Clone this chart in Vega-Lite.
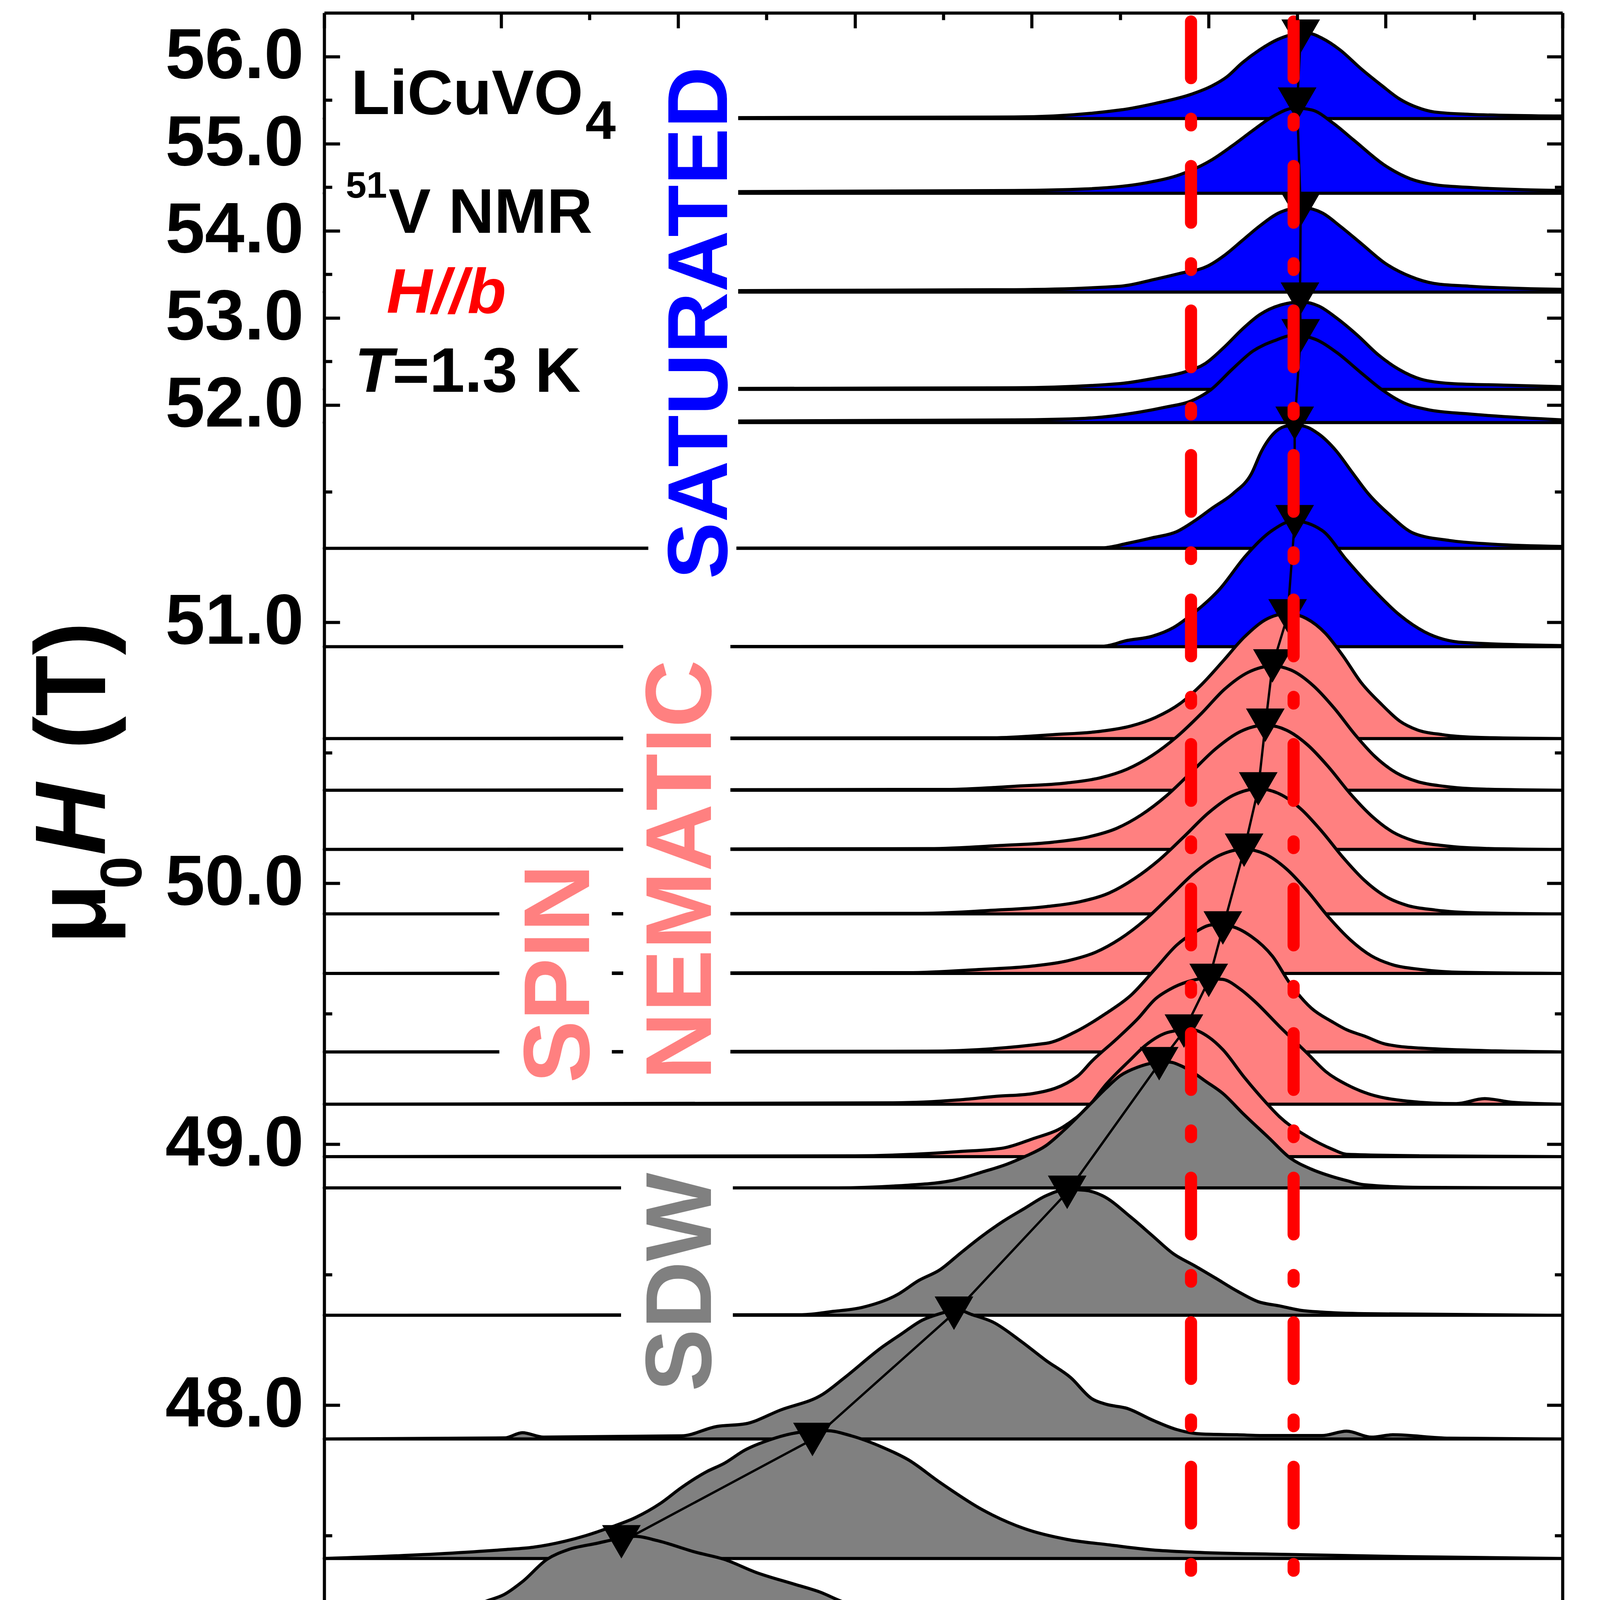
{
  "$schema": "https://vega.github.io/schema/vega-lite/v6.json",
  "width": 3170,
  "height": 4232,
  "autosize": {"type": "none"},
  "padding": {"left": 830, "top": 33, "right": 204, "bottom": 705},
  "background": "white",
  "config": {"view": {"stroke": null}, "font": "Liberation Sans"},
  "datasets": {
    "base": [
      {"s":"s01","p":"1SAT","b":55.287},{"s":"s02","p":"1SAT","b":54.430},{"s":"s03","p":"1SAT","b":53.296},
      {"s":"s04","p":"1SAT","b":52.179},{"s":"s05","p":"1SAT","b":51.798},{"s":"s06","p":"1SAT","b":51.283},
      {"s":"s07","p":"1SAT","b":50.906},{"s":"s08","p":"2SN","b":50.554},{"s":"s09","p":"2SN","b":50.356},
      {"s":"s10","p":"2SN","b":50.129},{"s":"s11","p":"2SN","b":49.882},{"s":"s12","p":"2SN","b":49.654},
      {"s":"s13","p":"2SN","b":49.353},{"s":"s14","p":"2SN","b":49.153},{"s":"s15","p":"2SN","b":48.952},
      {"s":"s16","p":"3SDW","b":48.832},{"s":"s17","p":"3SDW","b":48.344},{"s":"s18","p":"3SDW","b":47.870},
      {"s":"s19","p":"3SDW","b":47.412},{"s":"s20","p":"3SDW","b":47.0}
    ],
    "spectra": [
      {"s":"s01","x":0.45,"y":55.287},{"s":"s01","x":0.645,"y":55.305},{"s":"s01","x":0.675,"y":55.386},{"s":"s01","x":0.685,"y":55.462},
      {"s":"s01","x":0.695,"y":55.565},{"s":"s01","x":0.701,"y":55.664},{"s":"s01","x":0.705,"y":55.762},{"s":"s01","x":0.7095,"y":55.928},
      {"s":"s01","x":0.7144,"y":56.076},{"s":"s01","x":0.7194,"y":56.193},{"s":"s01","x":0.7243,"y":56.256},{"s":"s01","x":0.7282,"y":56.265},
      {"s":"s01","x":0.7322,"y":56.206},{"s":"s01","x":0.7371,"y":56.076},{"s":"s01","x":0.743,"y":55.861},{"s":"s01","x":0.749,"y":55.664},
      {"s":"s01","x":0.7538,"y":55.516},{"s":"s01","x":0.7588,"y":55.417},{"s":"s01","x":0.7637,"y":55.363},{"s":"s01","x":0.7736,"y":55.336},
      {"s":"s01","x":0.7933,"y":55.318},{"s":"s01","x":0.8,"y":55.316},

      {"s":"s02","x":0.45,"y":54.430},{"s":"s02","x":0.645,"y":54.461},{"s":"s02","x":0.665,"y":54.479},{"s":"s02","x":0.682,"y":54.547},
      {"s":"s02","x":0.692,"y":54.645},{"s":"s02","x":0.7006,"y":54.807},{"s":"s02","x":0.7066,"y":54.973},{"s":"s02","x":0.7125,"y":55.152},
      {"s":"s02","x":0.7184,"y":55.318},{"s":"s02","x":0.7243,"y":55.408},{"s":"s02","x":0.7292,"y":55.385},{"s":"s02","x":0.7351,"y":55.237},
      {"s":"s02","x":0.741,"y":55.040},{"s":"s02","x":0.75,"y":54.744},{"s":"s02","x":0.757,"y":54.596},{"s":"s02","x":0.7637,"y":54.529},
      {"s":"s02","x":0.7736,"y":54.497},{"s":"s02","x":0.8,"y":54.461},

      {"s":"s03","x":0.45,"y":53.296},{"s":"s03","x":0.645,"y":53.323},{"s":"s03","x":0.675,"y":53.363},{"s":"s03","x":0.685,"y":53.444},
      {"s":"s03","x":0.692,"y":53.511},{"s":"s03","x":0.6996,"y":53.592},{"s":"s03","x":0.7046,"y":53.722},{"s":"s03","x":0.7095,"y":53.888},
      {"s":"s03","x":0.7144,"y":54.054},{"s":"s03","x":0.7204,"y":54.215},{"s":"s03","x":0.7263,"y":54.265},{"s":"s03","x":0.7322,"y":54.202},
      {"s":"s03","x":0.7371,"y":54.054},{"s":"s03","x":0.743,"y":53.857},{"s":"s03","x":0.75,"y":53.623},{"s":"s03","x":0.757,"y":53.475},
      {"s":"s03","x":0.7637,"y":53.395},{"s":"s03","x":0.7736,"y":53.363},{"s":"s03","x":0.8,"y":53.327},

      {"s":"s04","x":0.45,"y":52.179},{"s":"s04","x":0.645,"y":52.197},{"s":"s04","x":0.675,"y":52.246},{"s":"s04","x":0.685,"y":52.309},
      {"s":"s04","x":0.693,"y":52.376},{"s":"s04","x":0.699,"y":52.475},{"s":"s04","x":0.7046,"y":52.672},{"s":"s04","x":0.7095,"y":52.870},
      {"s":"s04","x":0.7144,"y":53.036},{"s":"s04","x":0.7204,"y":53.148},{"s":"s04","x":0.7263,"y":53.183},{"s":"s04","x":0.7312,"y":53.134},
      {"s":"s04","x":0.7361,"y":53.000},{"s":"s04","x":0.742,"y":52.802},{"s":"s04","x":0.748,"y":52.574},{"s":"s04","x":0.7538,"y":52.408},
      {"s":"s04","x":0.76,"y":52.296},{"s":"s04","x":0.7687,"y":52.246},{"s":"s04","x":0.7834,"y":52.228},{"s":"s04","x":0.8,"y":52.210},

      {"s":"s05","x":0.45,"y":51.798},{"s":"s05","x":0.645,"y":51.829},{"s":"s05","x":0.665,"y":51.847},{"s":"s05","x":0.68,"y":51.915},
      {"s":"s05","x":0.688,"y":51.977},{"s":"s05","x":0.695,"y":52.045},{"s":"s05","x":0.7006,"y":52.175},{"s":"s05","x":0.7066,"y":52.408},
      {"s":"s05","x":0.7125,"y":52.619},{"s":"s05","x":0.7184,"y":52.735},{"s":"s05","x":0.7243,"y":52.802},{"s":"s05","x":0.7302,"y":52.753},
      {"s":"s05","x":0.7361,"y":52.605},{"s":"s05","x":0.743,"y":52.372},{"s":"s05","x":0.749,"y":52.175},{"s":"s05","x":0.755,"y":52.027},
      {"s":"s05","x":0.762,"y":51.946},{"s":"s05","x":0.7736,"y":51.897},{"s":"s05","x":0.8,"y":51.829},

      {"s":"s06","x":0.45,"y":51.283},{"s":"s06","x":0.67,"y":51.285},{"s":"s06","x":0.677,"y":51.302},{"s":"s06","x":0.684,"y":51.323},
      {"s":"s06","x":0.691,"y":51.347},{"s":"s06","x":0.696,"y":51.388},{"s":"s06","x":0.701,"y":51.437},{"s":"s06","x":0.707,"y":51.494},
      {"s":"s06","x":0.712,"y":51.567},{"s":"s06","x":0.715,"y":51.657},{"s":"s06","x":0.719,"y":51.731},{"s":"s06","x":0.7225,"y":51.760},
      {"s":"s06","x":0.726,"y":51.762},{"s":"s06","x":0.731,"y":51.722},{"s":"s06","x":0.736,"y":51.657},{"s":"s06","x":0.7405,"y":51.575},
      {"s":"s06","x":0.745,"y":51.494},{"s":"s06","x":0.751,"y":51.413},{"s":"s06","x":0.758,"y":51.340},{"s":"s06","x":0.768,"y":51.313},
      {"s":"s06","x":0.78,"y":51.299},{"s":"s06","x":0.8,"y":51.290},

      {"s":"s07","x":0.45,"y":50.906},{"s":"s07","x":0.67,"y":50.908},{"s":"s07","x":0.677,"y":50.930},{"s":"s07","x":0.684,"y":50.946},
      {"s":"s07","x":0.69,"y":50.979},{"s":"s07","x":0.695,"y":51.027},{"s":"s07","x":0.703,"y":51.125},{"s":"s07","x":0.7105,"y":51.255},
      {"s":"s07","x":0.718,"y":51.352},{"s":"s07","x":0.724,"y":51.388},{"s":"s07","x":0.732,"y":51.352},{"s":"s07","x":0.739,"y":51.238},
      {"s":"s07","x":0.7465,"y":51.125},{"s":"s07","x":0.754,"y":51.027},{"s":"s07","x":0.761,"y":50.963},{"s":"s07","x":0.772,"y":50.922},
      {"s":"s07","x":0.8,"y":50.910},

      {"s":"s08","x":0.45,"y":50.554},{"s":"s08","x":0.639,"y":50.557},{"s":"s08","x":0.656,"y":50.569},{"s":"s08","x":0.6695,"y":50.582},
      {"s":"s08","x":0.678,"y":50.602},{"s":"s08","x":0.685,"y":50.635},{"s":"s08","x":0.692,"y":50.689},{"s":"s08","x":0.698,"y":50.761},
      {"s":"s08","x":0.704,"y":50.850},{"s":"s08","x":0.71,"y":50.942},{"s":"s08","x":0.716,"y":51.009},{"s":"s08","x":0.7223,"y":51.033},
      {"s":"s08","x":0.7276,"y":51.014},{"s":"s08","x":0.733,"y":50.957},{"s":"s08","x":0.738,"y":50.870},{"s":"s08","x":0.743,"y":50.770},
      {"s":"s08","x":0.749,"y":50.683},{"s":"s08","x":0.754,"y":50.621},{"s":"s08","x":0.759,"y":50.587},{"s":"s08","x":0.766,"y":50.569},
      {"s":"s08","x":0.777,"y":50.558},{"s":"s08","x":0.8,"y":50.554},

      {"s":"s09","x":0.45,"y":50.356},{"s":"s09","x":0.626,"y":50.359},{"s":"s09","x":0.645,"y":50.371},{"s":"s09","x":0.66,"y":50.384},
      {"s":"s09","x":0.6695,"y":50.404},{"s":"s09","x":0.677,"y":50.437},{"s":"s09","x":0.684,"y":50.489},{"s":"s09","x":0.691,"y":50.561},
      {"s":"s09","x":0.698,"y":50.651},{"s":"s09","x":0.7044,"y":50.742},{"s":"s09","x":0.7112,"y":50.808},{"s":"s09","x":0.718,"y":50.832},
      {"s":"s09","x":0.7238,"y":50.813},{"s":"s09","x":0.7296,"y":50.756},{"s":"s09","x":0.7355,"y":50.670},{"s":"s09","x":0.7413,"y":50.570},
      {"s":"s09","x":0.747,"y":50.485},{"s":"s09","x":0.753,"y":50.423},{"s":"s09","x":0.759,"y":50.389},{"s":"s09","x":0.7665,"y":50.371},
      {"s":"s09","x":0.778,"y":50.360},{"s":"s09","x":0.8,"y":50.356},

      {"s":"s10","x":0.45,"y":50.129},{"s":"s10","x":0.621,"y":50.132},{"s":"s10","x":0.641,"y":50.144},{"s":"s10","x":0.656,"y":50.157},
      {"s":"s10","x":0.666,"y":50.177},{"s":"s10","x":0.674,"y":50.210},{"s":"s10","x":0.681,"y":50.262},{"s":"s10","x":0.688,"y":50.334},
      {"s":"s10","x":0.695,"y":50.424},{"s":"s10","x":0.702,"y":50.515},{"s":"s10","x":0.709,"y":50.581},{"s":"s10","x":0.716,"y":50.605},
      {"s":"s10","x":0.722,"y":50.586},{"s":"s10","x":0.728,"y":50.529},{"s":"s10","x":0.734,"y":50.443},{"s":"s10","x":0.74,"y":50.343},
      {"s":"s10","x":0.746,"y":50.258},{"s":"s10","x":0.752,"y":50.196},{"s":"s10","x":0.758,"y":50.162},{"s":"s10","x":0.766,"y":50.144},
      {"s":"s10","x":0.778,"y":50.133},{"s":"s10","x":0.8,"y":50.129},

      {"s":"s11","x":0.45,"y":49.882},{"s":"s11","x":0.619,"y":49.884},{"s":"s11","x":0.639,"y":49.896},{"s":"s11","x":0.654,"y":49.910},
      {"s":"s11","x":0.664,"y":49.930},{"s":"s11","x":0.672,"y":49.963},{"s":"s11","x":0.679,"y":50.017},{"s":"s11","x":0.686,"y":50.089},
      {"s":"s11","x":0.693,"y":50.178},{"s":"s11","x":0.7,"y":50.270},{"s":"s11","x":0.707,"y":50.337},{"s":"s11","x":0.714,"y":50.361},
      {"s":"s11","x":0.72,"y":50.342},{"s":"s11","x":0.726,"y":50.285},{"s":"s11","x":0.732,"y":50.198},{"s":"s11","x":0.738,"y":50.098},
      {"s":"s11","x":0.744,"y":50.011},{"s":"s11","x":0.75,"y":49.949},{"s":"s11","x":0.756,"y":49.915},{"s":"s11","x":0.764,"y":49.897},
      {"s":"s11","x":0.776,"y":49.886},{"s":"s11","x":0.8,"y":49.882},

      {"s":"s12","x":0.45,"y":49.654},{"s":"s12","x":0.615,"y":49.657},{"s":"s12","x":0.635,"y":49.669},{"s":"s12","x":0.65,"y":49.682},
      {"s":"s12","x":0.66,"y":49.702},{"s":"s12","x":0.668,"y":49.735},{"s":"s12","x":0.675,"y":49.787},{"s":"s12","x":0.682,"y":49.859},
      {"s":"s12","x":0.689,"y":49.949},{"s":"s12","x":0.696,"y":50.040},{"s":"s12","x":0.703,"y":50.106},{"s":"s12","x":0.71,"y":50.130},
      {"s":"s12","x":0.716,"y":50.111},{"s":"s12","x":0.722,"y":50.054},{"s":"s12","x":0.728,"y":49.968},{"s":"s12","x":0.734,"y":49.868},
      {"s":"s12","x":0.74,"y":49.783},{"s":"s12","x":0.746,"y":49.721},{"s":"s12","x":0.752,"y":49.687},{"s":"s12","x":0.76,"y":49.669},
      {"s":"s12","x":0.772,"y":49.658},{"s":"s12","x":0.8,"y":49.654},

      {"s":"s13","x":0.45,"y":49.353},{"s":"s13","x":0.62,"y":49.356},{"s":"s13","x":0.654,"y":49.386},{"s":"s13","x":0.662,"y":49.428},
      {"s":"s13","x":0.671,"y":49.501},{"s":"s13","x":0.678,"y":49.570},{"s":"s13","x":0.685,"y":49.673},{"s":"s13","x":0.691,"y":49.763},
      {"s":"s13","x":0.696,"y":49.811},{"s":"s13","x":0.701,"y":49.840},{"s":"s13","x":0.706,"y":49.835},{"s":"s13","x":0.712,"y":49.796},
      {"s":"s13","x":0.718,"y":49.720},{"s":"s13","x":0.723,"y":49.615},{"s":"s13","x":0.729,"y":49.521},{"s":"s13","x":0.735,"y":49.468},
      {"s":"s13","x":0.739,"y":49.438},{"s":"s13","x":0.744,"y":49.414},{"s":"s13","x":0.75,"y":49.383},{"s":"s13","x":0.762,"y":49.366},
      {"s":"s13","x":0.8,"y":49.353},

      {"s":"s14","x":0.45,"y":49.153},{"s":"s14","x":0.61,"y":49.158},{"s":"s14","x":0.629,"y":49.169},{"s":"s14","x":0.64,"y":49.183},
      {"s":"s14","x":0.65,"y":49.193},{"s":"s14","x":0.663,"y":49.261},{"s":"s14","x":0.667,"y":49.318},{"s":"s14","x":0.674,"y":49.403},
      {"s":"s14","x":0.68,"y":49.481},{"s":"s14","x":0.685,"y":49.557},{"s":"s14","x":0.689,"y":49.593},{"s":"s14","x":0.694,"y":49.622},
      {"s":"s14","x":0.699,"y":49.635},{"s":"s14","x":0.704,"y":49.631},{"s":"s14","x":0.709,"y":49.593},{"s":"s14","x":0.713,"y":49.547},
      {"s":"s14","x":0.72,"y":49.451},{"s":"s14","x":0.728,"y":49.346},{"s":"s14","x":0.733,"y":49.279},{"s":"s14","x":0.739,"y":49.228},
      {"s":"s14","x":0.744,"y":49.198},{"s":"s14","x":0.756,"y":49.165},{"s":"s14","x":0.77,"y":49.155},{"s":"s14","x":0.778,"y":49.174},
      {"s":"s14","x":0.786,"y":49.160},{"s":"s14","x":0.8,"y":49.153},

      {"s":"s15","x":0.45,"y":48.952},{"s":"s15","x":0.6,"y":48.955},{"s":"s15","x":0.615,"y":48.960},{"s":"s15","x":0.629,"y":48.971},
      {"s":"s15","x":0.642,"y":48.985},{"s":"s15","x":0.65,"y":49.019},{"s":"s15","x":0.659,"y":49.067},{"s":"s15","x":0.666,"y":49.144},
      {"s":"s15","x":0.671,"y":49.229},{"s":"s15","x":0.678,"y":49.325},{"s":"s15","x":0.682,"y":49.377},{"s":"s15","x":0.689,"y":49.430},
      {"s":"s15","x":0.695,"y":49.439},{"s":"s15","x":0.7,"y":49.410},{"s":"s15","x":0.704,"y":49.362},{"s":"s15","x":0.71,"y":49.257},
      {"s":"s15","x":0.716,"y":49.162},{"s":"s15","x":0.72,"y":49.105},{"s":"s15","x":0.728,"y":49.028},{"s":"s15","x":0.735,"y":48.980},
      {"s":"s15","x":0.739,"y":48.961},{"s":"s15","x":0.76,"y":48.955},{"s":"s15","x":0.8,"y":48.952},

      {"s":"s16","x":0.45,"y":48.832},{"s":"s16","x":0.595,"y":48.832},{"s":"s16","x":0.612,"y":48.840},{"s":"s16","x":0.627,"y":48.859},
      {"s":"s16","x":0.636,"y":48.893},{"s":"s16","x":0.643,"y":48.923},{"s":"s16","x":0.648,"y":48.952},{"s":"s16","x":0.654,"y":48.994},
      {"s":"s16","x":0.659,"y":49.052},{"s":"s16","x":0.666,"y":49.146},{"s":"s16","x":0.671,"y":49.214},{"s":"s16","x":0.675,"y":49.262},
      {"s":"s16","x":0.68,"y":49.295},{"s":"s16","x":0.684,"y":49.310},{"s":"s16","x":0.689,"y":49.314},{"s":"s16","x":0.692,"y":49.301},
      {"s":"s16","x":0.696,"y":49.271},{"s":"s16","x":0.699,"y":49.242},{"s":"s16","x":0.704,"y":49.194},{"s":"s16","x":0.71,"y":49.113},
      {"s":"s16","x":0.717,"y":49.024},{"s":"s16","x":0.723,"y":48.947},{"s":"s16","x":0.729,"y":48.904},{"s":"s16","x":0.735,"y":48.875},
      {"s":"s16","x":0.739,"y":48.860},{"s":"s16","x":0.744,"y":48.844},{"s":"s16","x":0.76,"y":48.834},{"s":"s16","x":0.8,"y":48.832},

      {"s":"s17","x":0.45,"y":48.344},{"s":"s17","x":0.585,"y":48.346},{"s":"s17","x":0.594,"y":48.359},{"s":"s17","x":0.602,"y":48.374},
      {"s":"s17","x":0.612,"y":48.423},{"s":"s17","x":0.618,"y":48.477},{"s":"s17","x":0.624,"y":48.518},{"s":"s17","x":0.63,"y":48.584},
      {"s":"s17","x":0.636,"y":48.648},{"s":"s17","x":0.642,"y":48.705},{"s":"s17","x":0.648,"y":48.754},{"s":"s17","x":0.654,"y":48.802},
      {"s":"s17","x":0.66,"y":48.826},{"s":"s17","x":0.665,"y":48.823},{"s":"s17","x":0.67,"y":48.802},{"s":"s17","x":0.678,"y":48.720},
      {"s":"s17","x":0.684,"y":48.650},{"s":"s17","x":0.69,"y":48.580},{"s":"s17","x":0.696,"y":48.534},{"s":"s17","x":0.702,"y":48.486},
      {"s":"s17","x":0.708,"y":48.437},{"s":"s17","x":0.714,"y":48.396},{"s":"s17","x":0.72,"y":48.380},{"s":"s17","x":0.726,"y":48.363},
      {"s":"s17","x":0.732,"y":48.356},{"s":"s17","x":0.744,"y":48.350},{"s":"s17","x":0.8,"y":48.344},

      {"s":"s18","x":0.45,"y":47.870},{"s":"s18","x":0.501,"y":47.874},{"s":"s18","x":0.506,"y":47.894},{"s":"s18","x":0.512,"y":47.877},
      {"s":"s18","x":0.551,"y":47.882},{"s":"s18","x":0.561,"y":47.918},{"s":"s18","x":0.569,"y":47.928},{"s":"s18","x":0.579,"y":47.981},
      {"s":"s18","x":0.591,"y":48.042},{"s":"s18","x":0.597,"y":48.104},{"s":"s18","x":0.608,"y":48.225},{"s":"s18","x":0.613,"y":48.271},
      {"s":"s18","x":0.619,"y":48.325},{"s":"s18","x":0.624,"y":48.350},{"s":"s18","x":0.629,"y":48.365},{"s":"s18","x":0.633,"y":48.347},
      {"s":"s18","x":0.639,"y":48.318},{"s":"s18","x":0.647,"y":48.244},{"s":"s18","x":0.654,"y":48.171},{"s":"s18","x":0.661,"y":48.105},
      {"s":"s18","x":0.667,"y":48.024},{"s":"s18","x":0.671,"y":48.003},{"s":"s18","x":0.677,"y":47.987},{"s":"s18","x":0.684,"y":47.943},
      {"s":"s18","x":0.691,"y":47.906},{"s":"s18","x":0.698,"y":47.889},{"s":"s18","x":0.708,"y":47.886},{"s":"s18","x":0.716,"y":47.883},
      {"s":"s18","x":0.732,"y":47.883},{"s":"s18","x":0.739,"y":47.900},{"s":"s18","x":0.746,"y":47.877},{"s":"s18","x":0.752,"y":47.886},
      {"s":"s18","x":0.768,"y":47.873},{"s":"s18","x":0.8,"y":47.870},

      {"s":"s19","x":0.45,"y":47.412},{"s":"s19","x":0.484,"y":47.431},{"s":"s19","x":0.501,"y":47.446},{"s":"s19","x":0.509,"y":47.455},
      {"s":"s19","x":0.518,"y":47.478},{"s":"s19","x":0.524,"y":47.500},{"s":"s19","x":0.531,"y":47.532},{"s":"s19","x":0.538,"y":47.569},
      {"s":"s19","x":0.545,"y":47.623},{"s":"s19","x":0.551,"y":47.684},{"s":"s19","x":0.558,"y":47.744},{"s":"s19","x":0.563,"y":47.776},
      {"s":"s19","x":0.569,"y":47.828},{"s":"s19","x":0.576,"y":47.867},{"s":"s19","x":0.582,"y":47.890},{"s":"s19","x":0.589,"y":47.902},
      {"s":"s19","x":0.592,"y":47.902},{"s":"s19","x":0.599,"y":47.882},{"s":"s19","x":0.608,"y":47.837},{"s":"s19","x":0.615,"y":47.791},
      {"s":"s19","x":0.624,"y":47.704},{"s":"s19","x":0.636,"y":47.599},{"s":"s19","x":0.648,"y":47.526},{"s":"s19","x":0.66,"y":47.485},
      {"s":"s19","x":0.672,"y":47.464},{"s":"s19","x":0.684,"y":47.445},{"s":"s19","x":0.696,"y":47.436},{"s":"s19","x":0.72,"y":47.428},
      {"s":"s19","x":0.756,"y":47.419},{"s":"s19","x":0.8,"y":47.412},

      {"s":"s20","x":0.45,"y":47.007},{"s":"s20","x":0.456,"y":47.020},{"s":"s20","x":0.463,"y":47.042},{"s":"s20","x":0.47,"y":47.020},
      {"s":"s20","x":0.475,"y":47.007},{"s":"s20","x":0.484,"y":47.123},{"s":"s20","x":0.489,"y":47.199},{"s":"s20","x":0.495,"y":47.244},
      {"s":"s20","x":0.501,"y":47.275},{"s":"s20","x":0.506,"y":47.323},{"s":"s20","x":0.513,"y":47.409},{"s":"s20","x":0.519,"y":47.446},
      {"s":"s20","x":0.527,"y":47.470},{"s":"s20","x":0.534,"y":47.490},{"s":"s20","x":0.538,"y":47.497},{"s":"s20","x":0.544,"y":47.481},
      {"s":"s20","x":0.555,"y":47.436},{"s":"s20","x":0.563,"y":47.409},{"s":"s20","x":0.572,"y":47.359},{"s":"s20","x":0.583,"y":47.313},
      {"s":"s20","x":0.59,"y":47.284},{"s":"s20","x":0.597,"y":47.244},{"s":"s20","x":0.605,"y":47.222},{"s":"s20","x":0.611,"y":47.195},
      {"s":"s20","x":0.621,"y":47.120},{"s":"s20","x":0.629,"y":47.088},{"s":"s20","x":0.635,"y":47.084},{"s":"s20","x":0.642,"y":47.064},
      {"s":"s20","x":0.651,"y":47.037},{"s":"s20","x":0.658,"y":47.018},{"s":"s20","x":0.667,"y":47.013},{"s":"s20","x":0.679,"y":47.022},
      {"s":"s20","x":0.687,"y":47.028},{"s":"s20","x":0.694,"y":47.022},{"s":"s20","x":0.709,"y":47.013},{"s":"s20","x":0.724,"y":47.007},
      {"s":"s20","x":0.738,"y":47.002},{"s":"s20","x":0.8,"y":47.0}
    ],
    "peaks": [
      {"i":1,"x":0.534,"y":47.476},{"i":2,"x":0.588,"y":47.868},{"i":3,"x":0.628,"y":48.352},{"i":4,"x":0.66,"y":48.815},
      {"i":5,"x":0.686,"y":49.308},{"i":6,"x":0.693,"y":49.433},{"i":7,"x":0.7,"y":49.627},{"i":8,"x":0.704,"y":49.828},
      {"i":9,"x":0.71,"y":50.126},{"i":10,"x":0.714,"y":50.361},{"i":11,"x":0.716,"y":50.605},{"i":12,"x":0.718,"y":50.832},
      {"i":13,"x":0.7223,"y":51.024},{"i":14,"x":0.7243,"y":51.385},{"i":15,"x":0.7243,"y":51.79},{"i":16,"x":0.726,"y":52.794},
      {"i":17,"x":0.7258,"y":53.215},{"i":18,"x":0.726,"y":54.24},{"i":19,"x":0.725,"y":55.453},{"i":20,"x":0.726,"y":56.233}
    ],
    "masks": [
      {"x":0.45,"x2":0.567,"y":56.5,"y2":51.663},
      {"x":0.5416,"x2":0.5665,"y":56.5,"y2":51.139},
      {"x":0.5345,"x2":0.5648,"y":50.99,"y2":49.208},
      {"x":0.4995,"x2":0.5313,"y":50.099,"y2":49.208},
      {"x":0.5339,"x2":0.5655,"y":48.916,"y2":47.996}
    ],
    "lines": [{"x":0.695},{"x":0.724}]
  },
  "layer": [
    {
      "data": {"name": "spectra"},
      "transform": [{"lookup": "s", "from": {"data": {"name": "base"}, "key": "s", "fields": ["p", "b"]}}],
      "mark": {"type": "area", "stroke": "black", "strokeWidth": 8, "strokeJoin": "round", "interpolate": "monotone", "fillOpacity": 1},
      "encoding": {
        "x": {"field": "x", "type": "quantitative", "scale": {"domain": [0.45, 0.8], "nice": false, "zero": false},
          "axis": {"orient": "bottom", "values": [0.45,0.475,0.5,0.525,0.55,0.575,0.6,0.625,0.65,0.675,0.7,0.725,0.75,0.775,0.8],
            "labelExpr": "round(datum.value*1000) % 50 == 0 ? format(datum.value, '.2f') : ''",
            "tickSize": {"condition": {"test": "round(datum.value*1000) % 50 == 0", "value": -39}, "value": -18},
            "tickWidth": 8, "tickColor": "black", "domainColor": "black", "domainWidth": 8,
            "labelFont": "Liberation Sans", "labelFontSize": 182, "labelFontWeight": "bold", "labelColor": "black",
            "labelPadding": 135, "labelFlush": false, "labelOverlap": false, "labelBound": false, "labelLimit": 1000,
            "grid": false, "title": null, "zindex": 1}},
        "y": {"field": "y", "type": "quantitative", "stack": null,
          "scale": {"domain": [47, 51.748, 56.5], "range": [4232, 1060, 0], "nice": false, "zero": false},
          "axis": {"orient": "left", "values": [47,47.5,48,48.5,49,49.5,50,50.5,51,51.5,52,52.5,53,53.5,54,54.5,55,55.5,56],
            "labelExpr": "datum.value % 1 == 0 ? format(datum.value, '.1f') : ''",
            "tickSize": {"condition": {"test": "datum.value % 1 == 0", "value": -40}, "value": -20},
            "tickWidth": 8, "tickColor": "black", "domainColor": "black", "domainWidth": 8,
            "labelFont": "Liberation Sans", "labelFontSize": 182, "labelFontWeight": "bold", "labelColor": "black",
            "labelPadding": 93, "labelFlush": false, "labelOverlap": false, "labelBound": false, "labelLimit": 1000,
            "grid": false, "title": null, "zindex": 1}},
        "y2": {"field": "b"},
        "detail": {"field": "s"},
        "color": {"field": "p", "type": "nominal", "scale": {"domain": ["1SAT", "2SN", "3SDW"], "range": ["#0000FF", "#FF8080", "#808080"]}, "legend": null}
      }
    },
    {
      "data": {"name": "masks"},
      "mark": {"type": "rect", "color": "white"},
      "encoding": {
        "x": {"field": "x", "type": "quantitative", "axis": null},
        "x2": {"field": "x2"},
        "y": {"field": "y", "type": "quantitative", "axis": null},
        "y2": {"field": "y2"}
      }
    },
    {
      "data": {"name": "peaks"},
      "mark": {"type": "line", "color": "black", "strokeWidth": 6},
      "encoding": {
        "x": {"field": "x", "type": "quantitative", "axis": null},
        "y": {"field": "y", "type": "quantitative", "axis": null},
        "order": {"field": "i", "type": "quantitative"}
      }
    },
    {
      "data": {"name": "peaks"},
      "mark": {"type": "point", "shape": "triangle-down", "size": 9800, "filled": true, "color": "black", "opacity": 1},
      "encoding": {
        "x": {"field": "x", "type": "quantitative",
          "axis": {"orient": "top", "values": [0.45,0.475,0.5,0.525,0.55,0.575,0.6,0.625,0.65,0.675,0.7,0.725,0.75,0.775,0.8],
            "labels": false, "tickSize": {"condition": {"test": "round(datum.value*1000) % 50 == 0", "value": -39}, "value": -18},
            "tickWidth": 8, "tickColor": "black", "domainColor": "black", "domainWidth": 8, "grid": false, "title": null, "zindex": 1}},
        "y": {"field": "y", "type": "quantitative",
          "axis": {"orient": "right", "values": [47,47.5,48,48.5,49,49.5,50,50.5,51,51.5,52,52.5,53,53.5,54,54.5,55,55.5,56],
            "labels": false, "tickSize": {"condition": {"test": "datum.value % 1 == 0", "value": -40}, "value": -20},
            "tickWidth": 8, "tickColor": "black", "domainColor": "black", "domainWidth": 8, "grid": false, "title": null, "zindex": 1}}
      }
    },
    {
      "data": {"name": "lines"},
      "mark": {"type": "rule", "color": "#FF0000", "strokeWidth": 31, "strokeCap": "round", "strokeDash": [145, 104, 17, 104], "strokeDashOffset": 348},
      "encoding": {
        "x": {"field": "x", "type": "quantitative", "axis": null},
        "y": {"datum": 56.5, "type": "quantitative", "axis": null},
        "y2": {"datum": 47}
      }
    },
    {
      "data": {"values": [{"x":0.4576,"y":55.341,"t":"LiCuVO"},{"x":0.4682,"y":53.978,"t":"V NMR"},{"x":0.4693,"y":52.152,"t":"=1.3 K"}]},
      "mark": {"type": "text", "align": "left", "baseline": "alphabetic", "font": "Liberation Sans", "fontSize": 162, "fontWeight": "bold", "color": "black"},
      "encoding": {"x": {"field": "x", "type": "quantitative", "axis": null}, "y": {"field": "y", "type": "quantitative", "axis": null}, "text": {"field": "t"}}
    },
    {
      "data": {"values": [{"x":0.5238,"y":55.054,"t":"4"}]},
      "mark": {"type": "text", "align": "left", "baseline": "alphabetic", "font": "Liberation Sans", "fontSize": 140, "fontWeight": "bold", "color": "black"},
      "encoding": {"x": {"field": "x", "type": "quantitative", "axis": null}, "y": {"field": "y", "type": "quantitative", "axis": null}, "text": {"field": "t"}}
    },
    {
      "data": {"values": [{"x":0.4561,"y":54.381,"t":"51"}]},
      "mark": {"type": "text", "align": "left", "baseline": "alphabetic", "font": "Liberation Sans", "fontSize": 95, "fontWeight": "bold", "color": "black"},
      "encoding": {"x": {"field": "x", "type": "quantitative", "axis": null}, "y": {"field": "y", "type": "quantitative", "axis": null}, "text": {"field": "t"}}
    },
    {
      "data": {"values": [{"x":0.4676,"y":53.058,"t":"H//b"}]},
      "mark": {"type": "text", "align": "left", "baseline": "alphabetic", "font": "Liberation Sans", "fontSize": 162, "fontWeight": "bold", "fontStyle": "italic", "color": "#FF0000"},
      "encoding": {"x": {"field": "x", "type": "quantitative", "axis": null}, "y": {"field": "y", "type": "quantitative", "axis": null}, "text": {"field": "t"}}
    },
    {
      "data": {"values": [{"x":0.4586,"y":52.152,"t":"T"}]},
      "mark": {"type": "text", "align": "left", "baseline": "alphabetic", "font": "Liberation Sans", "fontSize": 162, "fontWeight": "bold", "fontStyle": "italic", "color": "black"},
      "encoding": {"x": {"field": "x", "type": "quantitative", "axis": null}, "y": {"field": "y", "type": "quantitative", "axis": null}, "text": {"field": "t"}}
    },
    {
      "data": {"values": [{"x":0.5638,"y":51.165,"t":"SATURATED"}]},
      "mark": {"type": "text", "align": "left", "baseline": "alphabetic", "angle": 270, "font": "Liberation Sans", "fontSize": 218, "fontWeight": "bold", "color": "#0000FF"},
      "encoding": {"x": {"field": "x", "type": "quantitative", "axis": null}, "y": {"field": "y", "type": "quantitative", "axis": null}, "text": {"field": "t"}}
    },
    {
      "data": {"values": [{"x":0.5249,"y":49.234,"t":"SPIN"},{"x":0.5593,"y":49.246,"t":"NEMATIC"}]},
      "mark": {"type": "text", "align": "left", "baseline": "alphabetic", "angle": 270, "font": "Liberation Sans", "fontSize": 240, "fontWeight": "bold", "color": "#FF8080"},
      "encoding": {"x": {"field": "x", "type": "quantitative", "axis": null}, "y": {"field": "y", "type": "quantitative", "axis": null}, "text": {"field": "t"}}
    },
    {
      "data": {"values": [{"x":0.5593,"y":48.052,"t":"SDW"}]},
      "mark": {"type": "text", "align": "left", "baseline": "alphabetic", "angle": 270, "font": "Liberation Sans", "fontSize": 240, "fontWeight": "bold", "color": "#808080"},
      "encoding": {"x": {"field": "x", "type": "quantitative", "axis": null}, "y": {"field": "y", "type": "quantitative", "axis": null}, "text": {"field": "t"}}
    },
    {
      "data": {"values": [{"x":0.5777,"y":46.156,"t":"= ν/γ−μ"},{"x":0.6989,"y":46.156,"t":"(T)"}]},
      "mark": {"type": "text", "align": "left", "baseline": "alphabetic", "font": "Liberation Sans", "fontSize": 230, "fontWeight": "bold", "color": "black"},
      "encoding": {"x": {"field": "x", "type": "quantitative", "axis": null}, "y": {"field": "y", "type": "quantitative", "axis": null}, "text": {"field": "t"}}
    },
    {
      "data": {"values": [{"x":0.5344,"y":46.156,"t":"H"},{"x":0.6736,"y":46.156,"t":"H"}]},
      "mark": {"type": "text", "align": "left", "baseline": "alphabetic", "font": "Liberation Sans", "fontSize": 230, "fontWeight": "bold", "fontStyle": "italic", "color": "black"},
      "encoding": {"x": {"field": "x", "type": "quantitative", "axis": null}, "y": {"field": "y", "type": "quantitative", "axis": null}, "text": {"field": "t"}}
    },
    {
      "data": {"values": [{"x":0.5527,"y":46.012,"t":"int"}]},
      "mark": {"type": "text", "align": "left", "baseline": "alphabetic", "font": "Liberation Sans", "fontSize": 134, "fontWeight": "bold", "fontStyle": "italic", "color": "black"},
      "encoding": {"x": {"field": "x", "type": "quantitative", "axis": null}, "y": {"field": "y", "type": "quantitative", "axis": null}, "text": {"field": "t"}}
    },
    {
      "data": {"values": [{"x":0.6653,"y":46.067,"t":"0"}]},
      "mark": {"type": "text", "align": "left", "baseline": "alphabetic", "font": "Liberation Sans", "fontSize": 134, "fontWeight": "bold", "color": "black"},
      "encoding": {"x": {"field": "x", "type": "quantitative", "axis": null}, "y": {"field": "y", "type": "quantitative", "axis": null}, "text": {"field": "t"}}
    },
    {
      "data": {"values": [{"x":0.3881,"y":49.765,"t":"μ"},{"x":0.3881,"y":50.512,"t":"(T)"}]},
      "mark": {"type": "text", "align": "left", "baseline": "alphabetic", "angle": 270, "font": "Liberation Sans", "fontSize": 256, "fontWeight": "bold", "color": "black"},
      "encoding": {"x": {"field": "x", "type": "quantitative", "axis": null}, "y": {"field": "y", "type": "quantitative", "axis": null}, "text": {"field": "t"}}
    },
    {
      "data": {"values": [{"x":0.3881,"y":50.106,"t":"H"}]},
      "mark": {"type": "text", "align": "left", "baseline": "alphabetic", "angle": 270, "font": "Liberation Sans", "fontSize": 256, "fontWeight": "bold", "fontStyle": "italic", "color": "black"},
      "encoding": {"x": {"field": "x", "type": "quantitative", "axis": null}, "y": {"field": "y", "type": "quantitative", "axis": null}, "text": {"field": "t"}}
    },
    {
      "data": {"values": [{"x":0.3983,"y":49.978,"t":"0"}]},
      "mark": {"type": "text", "align": "left", "baseline": "alphabetic", "angle": 270, "font": "Liberation Sans", "fontSize": 150, "fontWeight": "bold", "color": "black"},
      "encoding": {"x": {"field": "x", "type": "quantitative", "axis": null}, "y": {"field": "y", "type": "quantitative", "axis": null}, "text": {"field": "t"}}
    }
  ],
  "resolve": {"axis": {"x": "independent", "y": "independent"}}
}
